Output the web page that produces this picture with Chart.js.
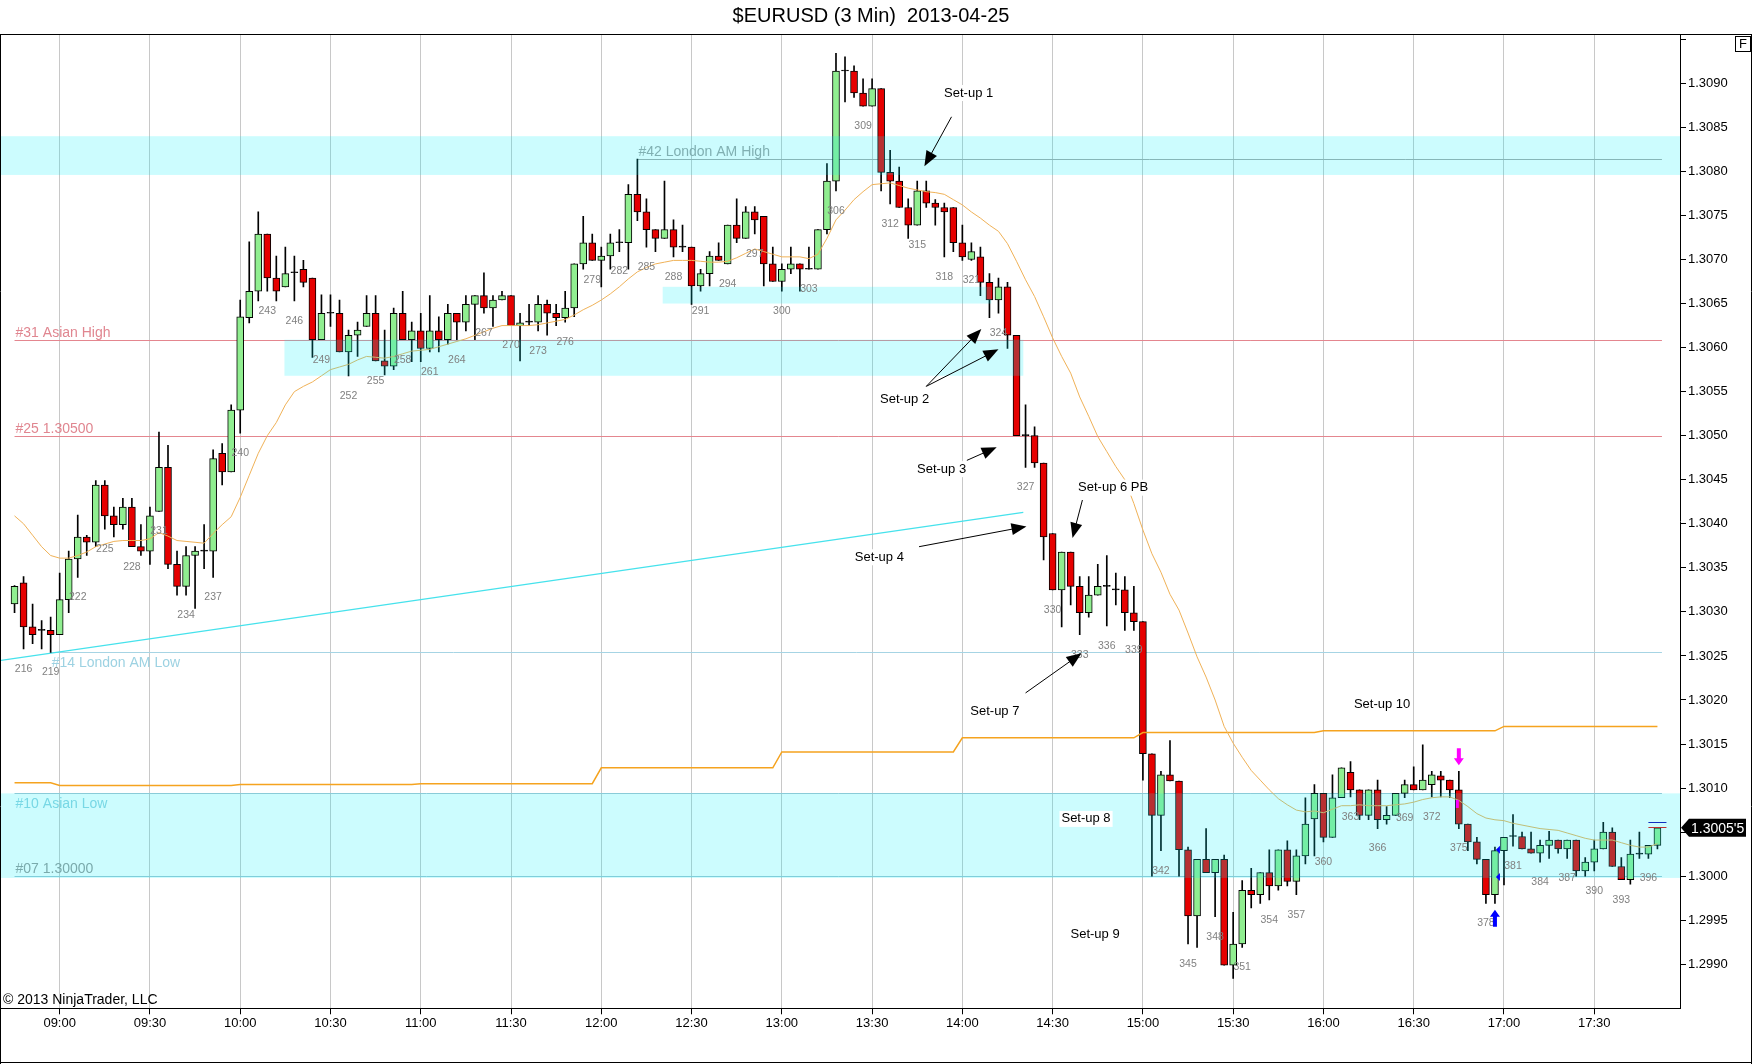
<!DOCTYPE html>
<html>
<head>
<meta charset="utf-8">
<title>EURUSD 3 Min</title>
<script src="https://cdn.jsdelivr.net/npm/chart.js@4.4.1/dist/chart.umd.min.js"></script>
<style>
  html, body { margin: 0; padding: 0; background: #fff; }
  #wrap { width: 1752px; height: 1064px; }
</style>
</head>
<body>
<div id="wrap"><canvas id="chart"></canvas></div>
<script>
const chartTitle = "$EURUSD (3 Min)  2013-04-25";
const copyright = "\u00a9 2013 NinjaTrader, LLC";

// bar numbers 215 .. 397, one candle every 3 minutes
const firstBar = 215;
const opens = [
  1.30309, 1.30333, 1.30283, 1.30279, 1.30279, 1.30274, 1.30314, 1.30360, 1.30385, 1.30379,
  1.30444, 1.30409, 1.30399, 1.30419, 1.30374, 1.30369, 1.30414, 1.30464, 1.30354, 1.30329,
  1.30364, 1.30369, 1.30369, 1.30480, 1.30459, 1.30529, 1.30634, 1.30664, 1.30729, 1.30679,
  1.30669, 1.30685, 1.30689, 1.30679, 1.30609, 1.30639, 1.30639, 1.30595, 1.30614, 1.30624,
  1.30639, 1.30585, 1.30579, 1.30639, 1.30609, 1.30619, 1.30599, 1.30619, 1.30609, 1.30639,
  1.30629, 1.30649, 1.30659, 1.30645, 1.30654, 1.30659, 1.30625, 1.30629, 1.30629, 1.30649,
  1.30639, 1.30634, 1.30645, 1.30695, 1.30719, 1.30699, 1.30704, 1.30719, 1.30719, 1.30774,
  1.30754, 1.30734, 1.30724, 1.30734, 1.30714, 1.30714, 1.30670, 1.30684, 1.30704, 1.30695,
  1.30739, 1.30724, 1.30754, 1.30749, 1.30695, 1.30675, 1.30689, 1.30695, 1.30689, 1.30689,
  1.30734, 1.30789, 1.30914, 1.30914, 1.30889, 1.30874, 1.30894, 1.30799, 1.30789, 1.30759,
  1.30739, 1.30778, 1.30764, 1.30759, 1.30759, 1.30719, 1.30700, 1.30703, 1.30674, 1.30654,
  1.30669, 1.30614, 1.30500, 1.30500, 1.30469, 1.30389, 1.30325, 1.30368, 1.30329, 1.30299,
  1.30319, 1.30329, 1.30325, 1.30325, 1.30299, 1.30289, 1.30139, 1.30069, 1.30115, 1.30108,
  1.30030, 1.29955, 1.30019, 1.30004, 1.30019, 1.29899, 1.29923, 1.29984, 1.29979, 1.30004,
  1.29989, 1.30030, 1.29994, 1.30023, 1.30065, 1.30094, 1.30044, 1.30089, 1.30118, 1.30098,
  1.30069, 1.30098, 1.30064, 1.30069, 1.30094, 1.30104, 1.30098, 1.30104, 1.30114, 1.30109,
  1.30098, 1.30059, 1.30039, 1.30019, 1.29979, 1.30029, 1.30045, 1.30045, 1.30031, 1.30026,
  1.30035, 1.30041, 1.30031, 1.30041, 1.30006, 1.30016, 1.30031, 1.30050, 1.30011, 1.29996,
  1.30025, 1.30025, 1.30035
];
const highs = [
  1.30330, 1.30340, 1.30309, 1.30290, 1.30294, 1.30344, 1.30369, 1.30410, 1.30387, 1.30449,
  1.30449, 1.30419, 1.30429, 1.30429, 1.30399, 1.30419, 1.30504, 1.30489, 1.30369, 1.30374,
  1.30374, 1.30399, 1.30484, 1.30491, 1.30535, 1.30654, 1.30720, 1.30754, 1.30729, 1.30704,
  1.30714, 1.30704, 1.30699, 1.30679, 1.30660, 1.30660, 1.30654, 1.30620, 1.30629, 1.30659,
  1.30659, 1.30620, 1.30645, 1.30664, 1.30629, 1.30639, 1.30659, 1.30635, 1.30649, 1.30639,
  1.30659, 1.30659, 1.30685, 1.30659, 1.30664, 1.30659, 1.30639, 1.30649, 1.30659, 1.30654,
  1.30649, 1.30664, 1.30695, 1.30749, 1.30729, 1.30714, 1.30729, 1.30734, 1.30785, 1.30814,
  1.30769, 1.30734, 1.30789, 1.30745, 1.30739, 1.30714, 1.30689, 1.30709, 1.30719, 1.30739,
  1.30769, 1.30760, 1.30760, 1.30749, 1.30714, 1.30695, 1.30714, 1.30695, 1.30714, 1.30734,
  1.30809, 1.30934, 1.30930, 1.30920, 1.30905, 1.30905, 1.30894, 1.30824, 1.30805, 1.30769,
  1.30789, 1.30789, 1.30768, 1.30764, 1.30759, 1.30739, 1.30719, 1.30714, 1.30684, 1.30679,
  1.30674, 1.30614, 1.30535, 1.30510, 1.30469, 1.30389, 1.30368, 1.30368, 1.30340, 1.30340,
  1.30354, 1.30364, 1.30344, 1.30340, 1.30329, 1.30289, 1.30139, 1.30119, 1.30154, 1.30108,
  1.30033, 1.30019, 1.30054, 1.30019, 1.30024, 1.29959, 1.29995, 1.30009, 1.30004, 1.30030,
  1.30030, 1.30040, 1.30030, 1.30089, 1.30104, 1.30094, 1.30115, 1.30123, 1.30130, 1.30098,
  1.30098, 1.30109, 1.30079, 1.30094, 1.30109, 1.30124, 1.30149, 1.30119, 1.30119, 1.30109,
  1.30119, 1.30059, 1.30044, 1.30019, 1.30033, 1.30044, 1.30070, 1.30050, 1.30050, 1.30041,
  1.30051, 1.30041, 1.30041, 1.30041, 1.30021, 1.30041, 1.30061, 1.30055, 1.30021, 1.30041,
  1.30050, 1.30035, 1.30055
];
const lows = [
  1.30299, 1.30258, 1.30264, 1.30258, 1.30254, 1.30274, 1.30299, 1.30339, 1.30364, 1.30374,
  1.30394, 1.30385, 1.30394, 1.30374, 1.30364, 1.30354, 1.30414, 1.30349, 1.30319, 1.30319,
  1.30304, 1.30349, 1.30339, 1.30444, 1.30459, 1.30503, 1.30628, 1.30653, 1.30664, 1.30653,
  1.30669, 1.30653, 1.30669, 1.30589, 1.30609, 1.30624, 1.30595, 1.30568, 1.30590, 1.30624,
  1.30585, 1.30569, 1.30575, 1.30609, 1.30584, 1.30584, 1.30595, 1.30595, 1.30604, 1.30609,
  1.30619, 1.30609, 1.30639, 1.30624, 1.30654, 1.30625, 1.30585, 1.30625, 1.30619, 1.30614,
  1.30625, 1.30629, 1.30635, 1.30689, 1.30699, 1.30669, 1.30689, 1.30709, 1.30689, 1.30744,
  1.30714, 1.30709, 1.30724, 1.30703, 1.30709, 1.30649, 1.30664, 1.30670, 1.30699, 1.30695,
  1.30719, 1.30724, 1.30729, 1.30670, 1.30675, 1.30664, 1.30684, 1.30664, 1.30689, 1.30689,
  1.30729, 1.30778, 1.30879, 1.30884, 1.30874, 1.30874, 1.30778, 1.30763, 1.30759, 1.30724,
  1.30739, 1.30759, 1.30739, 1.30703, 1.30709, 1.30699, 1.30699, 1.30659, 1.30634, 1.30639,
  1.30599, 1.30500, 1.30464, 1.30464, 1.30359, 1.30325, 1.30283, 1.30308, 1.30274, 1.30294,
  1.30319, 1.30284, 1.30308, 1.30279, 1.30279, 1.30109, 1.30000, 1.30029, 1.30108, 1.30000,
  1.29923, 1.29919, 1.30004, 1.29954, 1.29899, 1.29884, 1.29919, 1.29964, 1.29969, 1.29973,
  1.29984, 1.29989, 1.29979, 1.30014, 1.30023, 1.30039, 1.30044, 1.30089, 1.30090, 1.30064,
  1.30064, 1.30054, 1.30059, 1.30069, 1.30089, 1.30098, 1.30098, 1.30090, 1.30090, 1.30089,
  1.30054, 1.30029, 1.30014, 1.29969, 1.29969, 1.29990, 1.30034, 1.30031, 1.30026, 1.30016,
  1.30020, 1.30026, 1.30020, 1.30000, 1.30000, 1.30006, 1.30031, 1.30011, 1.29996, 1.29991,
  1.30020, 1.30020, 1.30031
];
const closes = [
  1.30329, 1.30283, 1.30274, 1.30279, 1.30274, 1.30314, 1.30360, 1.30385, 1.30379, 1.30444,
  1.30409, 1.30399, 1.30419, 1.30374, 1.30369, 1.30409, 1.30464, 1.30354, 1.30329, 1.30364,
  1.30369, 1.30369, 1.30474, 1.30459, 1.30529, 1.30635, 1.30664, 1.30729, 1.30679, 1.30664,
  1.30684, 1.30685, 1.30674, 1.30609, 1.30639, 1.30639, 1.30595, 1.30614, 1.30620, 1.30639,
  1.30585, 1.30579, 1.30639, 1.30609, 1.30619, 1.30599, 1.30619, 1.30609, 1.30639, 1.30629,
  1.30649, 1.30659, 1.30645, 1.30654, 1.30659, 1.30625, 1.30628, 1.30629, 1.30649, 1.30639,
  1.30634, 1.30645, 1.30695, 1.30719, 1.30699, 1.30704, 1.30719, 1.30719, 1.30774, 1.30754,
  1.30734, 1.30724, 1.30734, 1.30714, 1.30714, 1.30670, 1.30684, 1.30704, 1.30699, 1.30739,
  1.30724, 1.30754, 1.30745, 1.30695, 1.30675, 1.30689, 1.30695, 1.30689, 1.30689, 1.30734,
  1.30789, 1.30914, 1.30914, 1.30889, 1.30874, 1.30894, 1.30799, 1.30789, 1.30759, 1.30739,
  1.30778, 1.30764, 1.30759, 1.30754, 1.30719, 1.30703, 1.30709, 1.30674, 1.30654, 1.30669,
  1.30614, 1.30500, 1.30500, 1.30469, 1.30385, 1.30325, 1.30368, 1.30329, 1.30299, 1.30319,
  1.30329, 1.30329, 1.30325, 1.30299, 1.30289, 1.30139, 1.30069, 1.30115, 1.30108, 1.30030,
  1.29955, 1.30019, 1.30004, 1.30019, 1.29899, 1.29923, 1.29984, 1.29979, 1.30004, 1.29989,
  1.30030, 1.29994, 1.30023, 1.30059, 1.30094, 1.30044, 1.30089, 1.30123, 1.30098, 1.30069,
  1.30098, 1.30064, 1.30069, 1.30094, 1.30104, 1.30098, 1.30109, 1.30115, 1.30109, 1.30098,
  1.30059, 1.30039, 1.30019, 1.29979, 1.30029, 1.30044, 1.30045, 1.30031, 1.30026, 1.30035,
  1.30041, 1.30031, 1.30041, 1.30006, 1.30016, 1.30031, 1.30050, 1.30011, 1.29996, 1.30025,
  1.30025, 1.30035, 1.30055
];
// thin orange moving average
const emaValues = [
  1.30409, 1.30400, 1.30387, 1.30374, 1.30364, 1.30361, 1.30361, 1.30364, 1.30368, 1.30374,
  1.30377, 1.30380, 1.30381, 1.30381, 1.30381, 1.30383, 1.30390, 1.30386, 1.30381, 1.30380,
  1.30379, 1.30378, 1.30389, 1.30399, 1.30408, 1.30430, 1.30455, 1.30480, 1.30500, 1.30515,
  1.30535, 1.30550, 1.30556, 1.30561, 1.30568, 1.30575, 1.30578, 1.30581, 1.30586, 1.30590,
  1.30589, 1.30588, 1.30590, 1.30593, 1.30596, 1.30597, 1.30598, 1.30601, 1.30604, 1.30607,
  1.30610, 1.30614, 1.30618, 1.30622, 1.30625, 1.30625, 1.30625, 1.30625, 1.30626, 1.30628,
  1.30630, 1.30632, 1.30637, 1.30643, 1.30648, 1.30654, 1.30661, 1.30669, 1.30678, 1.30686,
  1.30691, 1.30695, 1.30697, 1.30699, 1.30699, 1.30699, 1.30698, 1.30697, 1.30697, 1.30698,
  1.30702, 1.30707, 1.30712, 1.30709, 1.30706, 1.30703, 1.30703, 1.30703, 1.30701, 1.30706,
  1.30724, 1.30745, 1.30756, 1.30768, 1.30777, 1.30785, 1.30786, 1.30787, 1.30784, 1.30781,
  1.30779, 1.30777, 1.30776, 1.30774, 1.30768, 1.30762, 1.30754, 1.30747, 1.30739, 1.30732,
  1.30718, 1.30698, 1.30677, 1.30658, 1.30635, 1.30611, 1.30590, 1.30571, 1.30544, 1.30522,
  1.30499, 1.30482, 1.30465, 1.30450, 1.30423, 1.30393, 1.30366, 1.30345, 1.30320, 1.30302,
  1.30276, 1.30249, 1.30226, 1.30200, 1.30170, 1.30151, 1.30135, 1.30120, 1.30109, 1.30098,
  1.30088, 1.30081, 1.30075, 1.30073, 1.30074, 1.30072, 1.30076, 1.30080, 1.30080, 1.30081,
  1.30080, 1.30080, 1.30080, 1.30081, 1.30082, 1.30084, 1.30087, 1.30089, 1.30090, 1.30090,
  1.30086, 1.30079, 1.30071, 1.30066, 1.30064, 1.30063, 1.30060, 1.30058, 1.30056, 1.30054,
  1.30053, 1.30052, 1.30049, 1.30046, 1.30043, 1.30041, 1.30041, 1.30041, 1.30038, 1.30035,
  1.30033, 1.30033, 1.30037
];
// hourly step line (value holds from each start bar)
const hourStartBars = [215, 220, 240, 260, 280, 300, 320, 340, 360, 380];
const hourLevels = [1.30106, 1.30103, 1.30104, 1.30105, 1.30123, 1.30141, 1.30157, 1.30163, 1.30165, 1.30170];

const timeLabels = ["09:00", "09:30", "10:00", "10:30", "11:00", "11:30", "12:00", "12:30", "13:00",
  "13:30", "14:00", "14:30", "15:00", "15:30", "16:00", "16:30", "17:00", "17:30"];
const timeLabelBars = [220, 230, 240, 250, 260, 270, 280, 290, 300, 310, 320, 330, 340, 350, 360, 370, 380, 390];

const levelNames = ["#42 London AM High", "#31 Asian High", "#25 1.30500", "#14 London AM Low", "#10 Asian Low", "#07 1.30000"];
const levelPrices = [1.30814, 1.30609, 1.30500, 1.30254, 1.30094, 1.30000];
const levelStartBars = [284, 215, 215, 219, 215, 215];

const bandLows = [1.30796, 1.30568, 1.30650, 1.29998];
const bandHighs = [1.30840, 1.30609, 1.30669, 1.30094];
const bandStartBars = [null, 244.9, 286.8, null];
const bandEndBars = [null, 326.75, 323.2, null];

const trendBars = [213.5, 326.75];
const trendPrices = [1.30245, 1.30413];

const noteTexts = ["Set-up 1", "Set-up 2", "Set-up 3", "Set-up 4", "Set-up 6 PB", "Set-up 7", "Set-up 8", "Set-up 9", "Set-up 10"];
const noteBars = [320.7, 313.6, 317.7, 310.8, 336.7, 323.6, 333.7, 334.7, 366.5];
const notePrices = [1.30889, 1.30541, 1.30462, 1.30362, 1.30441, 1.30187, 1.30065, 1.29934, 1.30195];

const arrowFromBars = [318.8, 316.0, 316.0, 320.5, 315.2, 333.3, 327.0];
const arrowFromPrices = [1.30862, 1.30556, 1.30556, 1.30472, 1.30374, 1.30427, 1.30208];
const arrowToBars = [315.8, 322.1, 324.0, 323.8, 327.1, 332.2, 333.2];
const arrowToPrices = [1.30806, 1.30621, 1.30598, 1.30487, 1.30397, 1.30384, 1.30253];

const sellSignalBars = [375];
const sellSignalPrices = [1.30126];
const buySignalBars = [379];
const buySignalPrices = [1.29962];
const entryBars = [379, 379];
const entryPrices = [1.30030, 1.29999];
const exitBars = [375];
const exitPrices = [1.30082];
const bidAsk = [1.30061, 1.30056];

const FONT = 'Arial, "Liberation Sans", sans-serif';
Chart.defaults.font.family = FONT;

const catStart = 214, catEnd = 399;
const categories = [];
for (let n = catStart; n <= catEnd; n++) categories.push(String(n));

function align(values) {
  return categories.map(function (c, i) {
    const k = catStart + i - firstBar;
    return k >= 0 && k < values.length ? values[k] : null;
  });
}

const wickData = align(lows.map((l, i) => [l, highs[i]]));
const bodyData = align(opens.map((o, i) => [Math.min(o, closes[i]), Math.max(o, closes[i])]));
const bodyColors = align(opens.map(function (o, i) {
  if (closes[i] > o) return "#90ee90";
  if (closes[i] < o) return "#e60000";
  return "#000000";
}));
const pivotValues = opens.map(function (o, i) {
  let v = hourLevels[0];
  hourStartBars.forEach(function (b, j) { if (firstBar + i >= b) v = hourLevels[j]; });
  return v;
});

function isTimeTick(index) {
  return timeLabelBars.indexOf(catStart + index) !== -1;
}

function xAt(chart, bar) { return chart.scales.x.getPixelForValue(bar - catStart); }
function yAt(chart, price) { return chart.scales.y.getPixelForValue(price); }

function drawArrow(ctx, x1, y1, x2, y2) {
  const a = Math.atan2(y2 - y1, x2 - x1);
  const len = 15, half = 6;
  ctx.beginPath();
  ctx.moveTo(x1, y1);
  ctx.lineTo(x2 - Math.cos(a) * len * 0.7, y2 - Math.sin(a) * len * 0.7);
  ctx.stroke();
  ctx.beginPath();
  ctx.moveTo(x2, y2);
  ctx.lineTo(x2 - len * Math.cos(a) + half * Math.sin(a), y2 - len * Math.sin(a) - half * Math.cos(a));
  ctx.lineTo(x2 - len * Math.cos(a) - half * Math.sin(a), y2 - len * Math.sin(a) + half * Math.cos(a));
  ctx.closePath();
  ctx.fill();
}

// block arrow used for the buy / sell signals, tip at (x, y), dir 1 = down, -1 = up
function drawSignal(ctx, x, y, dir) {
  ctx.beginPath();
  ctx.moveTo(x, y);
  ctx.lineTo(x - 5, y - dir * 7);
  ctx.lineTo(x - 2, y - dir * 7);
  ctx.lineTo(x - 2, y - dir * 17);
  ctx.lineTo(x + 2, y - dir * 17);
  ctx.lineTo(x + 2, y - dir * 7);
  ctx.lineTo(x + 5, y - dir * 7);
  ctx.closePath();
  ctx.fill();
}

const levelStyles = [
  { line: "#a8a8a8", text: "#a0a0a0", below: false },
  { line: "#e4868f", text: "#e08690", below: false },
  { line: "#e4868f", text: "#e08690", below: false },
  { line: "#a6d4e4", text: "#9dd2e2", below: true },
  { line: "#9fc6d4", text: "#96d2e0", below: true },
  { line: "#9fc6d4", text: "#999999", below: false }
];

const extras = {
  id: "extras",
  beforeDraw(chart) {
    const ctx = chart.ctx;
    ctx.save();
    ctx.fillStyle = "#ffffff";
    ctx.fillRect(0, 0, chart.width, chart.height);
    ctx.restore();
  },
  beforeDatasetsDraw(chart) {
    const ctx = chart.ctx, area = chart.chartArea;
    const lastBar = firstBar + opens.length - 1;
    ctx.save();
    ctx.beginPath();
    ctx.rect(area.left, area.top, area.right - area.left, area.bottom - area.top);
    ctx.clip();
    // price levels
    ctx.font = "14px " + FONT;
    levelPrices.forEach(function (p, i) {
      const st = levelStyles[i];
      const y = Math.round(yAt(chart, p)) + 0.5;
      const x0 = xAt(chart, levelStartBars[i]);
      const x1 = xAt(chart, lastBar + 0.5);
      ctx.strokeStyle = st.line;
      ctx.lineWidth = 1;
      ctx.beginPath();
      ctx.moveTo(x0, y);
      ctx.lineTo(x1, y);
      ctx.stroke();
      ctx.fillStyle = st.text;
      ctx.textAlign = "left";
      ctx.textBaseline = st.below ? "top" : "alphabetic";
      ctx.fillText(levelNames[i], x0 + 1, st.below ? y + 4 : y - 4);
    });
    // trend line
    ctx.strokeStyle = "#46e2ec";
    ctx.lineWidth = 1.4;
    ctx.beginPath();
    ctx.moveTo(xAt(chart, trendBars[0]), yAt(chart, trendPrices[0]));
    ctx.lineTo(xAt(chart, trendBars[1]), yAt(chart, trendPrices[1]));
    ctx.stroke();
    ctx.restore();
  },
  afterDatasetsDraw(chart) {
    const ctx = chart.ctx, area = chart.chartArea;
    ctx.save();
    ctx.beginPath();
    ctx.rect(area.left, area.top, area.right - area.left, area.bottom - area.top);
    ctx.clip();
    // zones
    ctx.fillStyle = "rgba(0, 240, 250, 0.2)";
    bandLows.forEach(function (lo, i) {
      const xa = bandStartBars[i] === null ? area.left : xAt(chart, bandStartBars[i]);
      const xb = bandEndBars[i] === null ? area.right : xAt(chart, bandEndBars[i]);
      const ya = yAt(chart, bandHighs[i]), yb = yAt(chart, lo);
      ctx.fillRect(xa, ya, xb - xa, yb - ya);
    });
    // bar numbers
    ctx.font = "10.5px " + FONT;
    ctx.fillStyle = "#808080";
    ctx.textAlign = "center";
    ctx.textBaseline = "middle";
    lows.forEach(function (l, i) {
      const bar = firstBar + i;
      if ((bar - 216) % 3 !== 0) return;
      ctx.fillText(String(bar), xAt(chart, bar), yAt(chart, l) + 20);
    });
    // notes
    ctx.font = "13px " + FONT;
    noteTexts.forEach(function (t, i) {
      const x = xAt(chart, noteBars[i]), y = yAt(chart, notePrices[i]);
      const w = ctx.measureText(t).width;
      ctx.fillStyle = "#ffffff";
      ctx.fillRect(x - w / 2 - 2, y - 8, w + 4, 16);
      ctx.fillStyle = "#000000";
      ctx.fillText(t, x, y);
    });
    ctx.strokeStyle = "#000000";
    ctx.fillStyle = "#000000";
    ctx.lineWidth = 1;
    arrowFromBars.forEach(function (b, i) {
      drawArrow(ctx, xAt(chart, b), yAt(chart, arrowFromPrices[i]),
        xAt(chart, arrowToBars[i]), yAt(chart, arrowToPrices[i]));
    });
    // signals
    ctx.fillStyle = "#ff00ff";
    sellSignalBars.forEach(function (b, i) {
      drawSignal(ctx, xAt(chart, b), yAt(chart, sellSignalPrices[i]), 1);
    });
    exitBars.forEach(function (b, i) {
      const x = xAt(chart, b), y = yAt(chart, exitPrices[i]);
      ctx.fillRect(x - 3, y - 4, 3, 8);
    });
    ctx.fillStyle = "#0000ff";
    buySignalBars.forEach(function (b, i) {
      drawSignal(ctx, xAt(chart, b), yAt(chart, buySignalPrices[i]), -1);
    });
    entryBars.forEach(function (b, i) {
      const x = xAt(chart, b), y = yAt(chart, entryPrices[i]);
      ctx.beginPath();
      ctx.moveTo(x + 1, y); ctx.lineTo(x + 5, y - 4); ctx.lineTo(x + 5, y + 4);
      ctx.closePath(); ctx.fill();
    });
    // bid / ask ticks at the last bar
    const lastBar = firstBar + opens.length - 1;
    ["#1030c0", "#c03030"].forEach(function (col, i) {
      const y = Math.round(yAt(chart, bidAsk[i])) + 0.5;
      ctx.strokeStyle = col;
      ctx.beginPath();
      ctx.moveTo(xAt(chart, lastBar - 1), y);
      ctx.lineTo(xAt(chart, lastBar + 1), y);
      ctx.stroke();
    });
    ctx.restore();
  },
  afterDraw(chart) {
    const ctx = chart.ctx, area = chart.chartArea;
    const W = chart.width, H = chart.height;
    ctx.save();
    // last price tag
    const last = closes[closes.length - 1];
    const ty = yAt(chart, last);
    const tx = area.right + 1;
    ctx.fillStyle = "#000000";
    ctx.beginPath();
    ctx.moveTo(tx, ty);
    ctx.lineTo(tx + 8, ty - 9);
    ctx.lineTo(tx + 65, ty - 9);
    ctx.lineTo(tx + 65, ty + 9);
    ctx.lineTo(tx + 8, ty + 9);
    ctx.closePath();
    ctx.fill();
    const s = last.toFixed(5);
    ctx.fillStyle = "#ffffff";
    ctx.font = "14px " + FONT;
    ctx.textAlign = "left";
    ctx.textBaseline = "middle";
    ctx.fillText(s.slice(0, 6) + "'" + s.slice(6), tx + 10, ty + 1);
    // frame
    ctx.strokeStyle = "#000000";
    ctx.lineWidth = 1;
    ctx.beginPath();
    ctx.moveTo(0, area.top + 0.5); ctx.lineTo(W, area.top + 0.5);
    ctx.moveTo(0.5, area.top); ctx.lineTo(0.5, H);
    ctx.moveTo(0, H - 1.5); ctx.lineTo(W, H - 1.5);
    ctx.moveTo(W - 0.5, area.top); ctx.lineTo(W - 0.5, H);
    ctx.moveTo(0, Math.round(area.bottom) + 0.5); ctx.lineTo(area.right, Math.round(area.bottom) + 0.5);
    ctx.stroke();
    // F box
    ctx.strokeRect(W - 16.5, area.top + 2.5, 15, 15);
    ctx.fillStyle = "#000000";
    ctx.font = "13px " + FONT;
    ctx.textAlign = "center";
    ctx.fillText("F", W - 9, area.top + 10.5);
    // copyright
    ctx.textAlign = "left";
    ctx.font = "14px " + FONT;
    ctx.fillText(copyright, 3, area.bottom - 8);
    // title
    ctx.textAlign = "center";
    ctx.font = "20px " + FONT;
    ctx.fillText(chartTitle, W / 2 - 5, 16);
    ctx.restore();
  }
};

new Chart(document.getElementById("chart"), {
  type: "bar",
  data: {
    labels: categories,
    datasets: [
      {
        type: "line",
        label: "ema",
        data: align(emaValues),
        borderColor: "#f0b258",
        borderWidth: 1,
        pointRadius: 0,
        tension: 0,
        order: 1,
      },
      {
        type: "line",
        label: "hourly",
        data: align(pivotValues),
        borderColor: "#f5a31f",
        borderWidth: 1.5,
        pointRadius: 0,
        tension: 0,
        order: 1,
      },
      {
        label: "body",
        data: bodyData,
        backgroundColor: bodyColors,
        borderColor: "#000000",
        borderWidth: 1,
        borderSkipped: false,
        barThickness: 7,
        minBarLength: 1,
        grouped: false,
        order: 2,
      },
      {
        label: "wick",
        data: wickData,
        backgroundColor: "#000000",
        barThickness: 1,
        grouped: false,
        order: 3,
      },
    ],
  },
  options: {
    responsive: true,
    maintainAspectRatio: false,
    animation: false,
    devicePixelRatio: 1,
    layout: { padding: { left: 1, top: 34, right: 0, bottom: 0 } },
    plugins: {
      legend: { display: false },
      tooltip: { enabled: false },
      title: { display: false },
    },
    scales: {
      x: {
        type: "category",
        offset: true,
        grid: {
          offset: false,
          drawOnChartArea: true,
          tickLength: 6,
          color: (c) => (isTimeTick(c.index) ? "#c8c8c8" : "rgba(0,0,0,0)"),
          tickColor: (c) => (isTimeTick(c.index) ? "#000000" : "rgba(0,0,0,0)"),
        },
        border: { display: true, color: "#000000" },
        ticks: {
          autoSkip: false,
          maxRotation: 0,
          minRotation: 0,
          padding: 1,
          color: "#000000",
          font: { size: 13 },
          callback: function (value, index) {
            const k = timeLabelBars.indexOf(catStart + index);
            return k === -1 ? "" : timeLabels[k];
          },
        },
        afterFit: function (scale) { scale.height = 55.7; },
      },
      y: {
        type: "linear",
        position: "right",
        min: 1.2985,
        max: 1.30956,
        grid: { drawOnChartArea: false, tickLength: 6, tickColor: "#000000" },
        border: { display: true, color: "#000000" },
        ticks: {
          stepSize: 0.0005,
          includeBounds: false,
          padding: 2,
          color: "#000000",
          font: { size: 13 },
          callback: function (v) {
            if (v < 1.29899) return null;
            if (v > 1.30901) return "";
            return v.toFixed(4);
          },
        },
        afterFit: function (scale) { scale.width = 72; },
      },
    },
  },
  plugins: [extras],
});
</script>
</body>
</html>
